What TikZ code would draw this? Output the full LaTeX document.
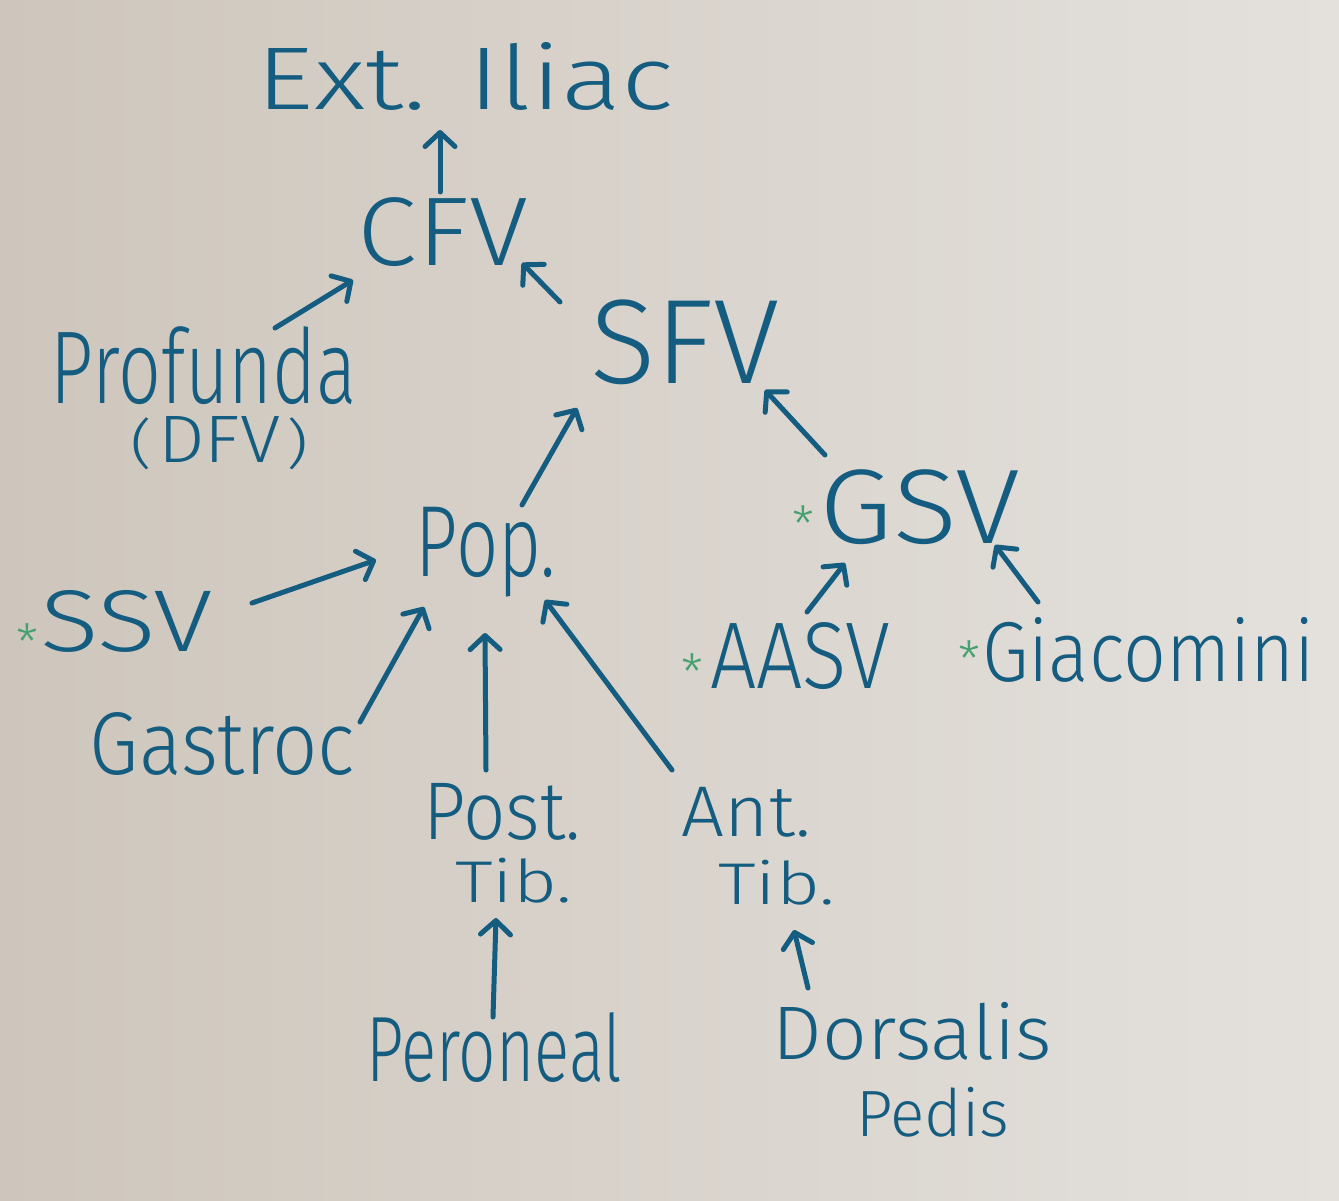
\documentclass[tikz,border=0pt]{standalone}
\usepackage{fontspec}
\usepackage{graphicx}
\setmainfont{Fira Sans}[UprightFont={* Light}]
\usetikzlibrary{arrows.meta,calc}
\definecolor{ink}{RGB}{20,92,128}
\definecolor{stargreen}{RGB}{70,160,112}
\definecolor{bgL}{RGB}{206,198,188}
\definecolor{bgR}{RGB}{228,225,221}
\newcommand\fitx[3]{\resizebox*{#1pt}{#2pt}{\fontsize{50pt}{50pt}\selectfont #3}}
\newcommand\twol[4]{\vbox{\offinterlineskip\halign{\hfil##\hfil\cr#1\cr\noalign{\vskip#3pt}\hspace*{#4pt}#2\cr}}}
\tikzset{
  lbl/.style={inner sep=0pt, outer sep=0pt, text=ink, font=\fontsize{2pt}{2pt}\selectfont},
  arr/.style={draw=ink, line width=5pt, line cap=round, line join=round, -{Straight Barb[length=14pt,width=30pt,round]}},
  ast/.style={inner sep=0pt, text=stargreen, font=\fontsize{50pt}{50pt}\selectfont}
}
\begin{document}
\begin{tikzpicture}[x=1pt,y=-1pt]
\shade[left color=bgL, right color=bgR] (0,0) rectangle (1339,1200);
\useasboundingbox (0,0) rectangle (1339,1200);
% labels
\node[lbl] (ext) at (465.5,76) {\fitx{417}{68}{Ext. Iliac}};
\node[lbl] (cfv) at (443,232.5) {\fitx{170}{69}{CFV}};
\node[lbl] (sfv) at (685,342.5) {\fitx{190}{85}{SFV}};
\node[lbl, anchor=north] (prof) at (204,327) {\twol{\fitx{306}{78}{Profunda}}{\fitx{22}{52}{(}\hspace{6pt}\fitx{122}{46}{DFV}\hspace{6pt}\fitx{22}{52}{)}}{11}{31}};
\node[lbl] (pop) at (486,552) {\fitx{140}{90}{Pop.}};
\node[lbl] (gsv) at (920,507.5) {\fitx{200}{75}{GSV}};
\node[lbl] (ssv) at (126.5,621) {\fitx{173}{62}{SSV}};
\node[lbl] (aasv) at (800,656.5) {\fitx{180}{67}{AASV}};
\node[lbl] (giac) at (1148.5,649.5) {\fitx{333}{65}{Giacomini}};
\node[lbl] (gast) at (222.5,743.5) {\fitx{265}{63}{Gastroc}};
\node[lbl, anchor=north] (postt) at (502,783) {\twol{\fitx{158}{57}{Post.}}{\fitx{117}{45}{Tib.}}{18}{23}};
\node[lbl, anchor=north] (antt) at (746.5,787) {\twol{\fitx{129}{50}{Ant.}}{\fitx{117}{45}{Tib.}}{23}{60}};
\node[lbl] (peron) at (494,1048) {\fitx{256}{70}{Peroneal}};
\node[lbl, anchor=north] (dors) at (912.5,1002) {\twol{\fitx{279}{58}{Dorsalis}}{\fitx{153}{50}{Pedis}}{27}{40}};
% stars
\node[ast] (gsvstar) at (803,524) {*};
\node[ast] (ssvstar) at (27,642) {*};
\node[ast] (aasvstar) at (692,672) {*};
\node[ast] (giacstar) at (969,659) {*};
% arrows
\draw[arr] ($(cfv.north)+(-3,-6)$) -- ($(ext.south)+(-25.5,20)$);
\draw[arr] ($(prof.north)+(71,1)$) -- ($(cfv.south west)+(-5,13)$);
\draw[arr] ($(sfv.north west)+(-30,2)$) -- ($(cfv.south east)+(-6,-4)$);
\draw[arr] ($(pop.north)+(36,-2)$) -- ($(sfv.south)+(-108,23)$);
\draw[arr] ($(gsv.north west)+(5,-15)$) -- ($(sfv.south east)+(-15,5)$);
\draw[arr] ($(ssv.east)+(39,-18)$) -- ($(pop.west)+(-40,8)$);
\draw[arr] ($(aasv.north)+(7,-11)$) -- ($(gsv.south)+(-75,18)$);
\draw[arr] ($(giac.north)+(-110.5,-15)$) -- ($(gsv.south east)+(-25,0)$);
\draw[arr] ($(gast.north east)+(5,10)$) -- ($(pop.south west)+(8,10)$);
\draw[arr] ($(postt.north)+(-16,-13)$) -- ($(pop.south)+(-1,36)$);
\draw[arr] ($(antt.north)+(-74.5,-17)$) -- ($(pop.south east)+(-11,3)$);
\draw[arr] ($(peron.north)+(-1,4)$) -- ($(postt.south)+(-6,15)$);
\draw[arr] ($(dors.north)+(-104.5,-14)$) -- ($(antt.south)+(47.5,25)$);
\end{tikzpicture}
\end{document}
